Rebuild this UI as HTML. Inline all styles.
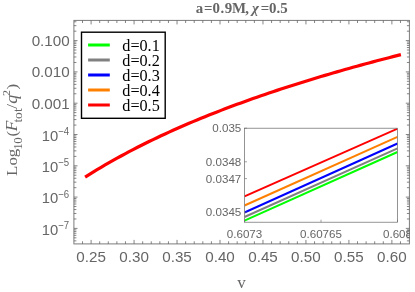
<!DOCTYPE html>
<html><head><meta charset="utf-8"><style>
html,body{margin:0;padding:0;background:#fff;}
svg{display:block;will-change:transform}
text{font-family:"Liberation Sans",sans-serif;fill:#666;}
.s14{font-size:15.2px}
.s11{font-size:11.6px}
.serif{font-family:"Liberation Serif",serif}
</style></head><body>
<svg width="415" height="292" viewBox="0 0 415 292">
<rect width="415" height="292" fill="#fff"/>
<defs><clipPath id="cp"><rect x="73.9" y="20.4" width="335.5" height="223.5"/></clipPath>
<clipPath id="ci"><rect x="244.5" y="128.2" width="153.0" height="94.0"/></clipPath>
<clipPath id="cr"><rect x="0" y="0" width="410" height="292"/></clipPath></defs>
<path d="M85.10,177.19 L89.10,174.66 L93.09,172.17 L97.09,169.74 L101.09,167.34 L105.09,164.99 L109.08,162.68 L113.08,160.41 L117.08,158.17 L121.08,155.98 L125.07,153.82 L129.07,151.69 L133.07,149.60 L137.07,147.54 L141.06,145.51 L145.06,143.52 L149.06,141.55 L153.06,139.61 L157.05,137.70 L161.05,135.82 L165.05,133.96 L169.05,132.13 L173.04,130.32 L177.04,128.54 L181.04,126.78 L185.04,125.05 L189.03,123.34 L193.03,121.65 L197.03,119.98 L201.03,118.33 L205.02,116.70 L209.02,115.09 L213.02,113.50 L217.02,111.93 L221.01,110.38 L225.01,108.85 L229.01,107.33 L233.01,105.83 L237.00,104.35 L241.00,102.89 L245.00,101.44 L249.00,100.00 L252.99,98.58 L256.99,97.18 L260.99,95.79 L264.99,94.42 L268.98,93.06 L272.98,91.71 L276.98,90.38 L280.98,89.06 L284.97,87.76 L288.97,86.46 L292.97,85.18 L296.97,83.91 L300.96,82.66 L304.96,81.41 L308.96,80.18 L312.96,78.96 L316.95,77.75 L320.95,76.55 L324.95,75.36 L328.95,74.19 L332.94,73.02 L336.94,71.86 L340.94,70.72 L344.94,69.58 L348.93,68.45 L352.93,67.33 L356.93,66.23 L360.93,65.13 L364.92,64.04 L368.92,62.96 L372.92,61.88 L376.92,60.82 L380.91,59.77 L384.91,58.72 L388.91,57.68 L392.91,56.65 L396.90,55.63 L400.90,54.62" stroke="#ff0000" stroke-width="3.2" fill="none" clip-path="url(#cp)"/>
<rect x="73.9" y="20.4" width="335.5" height="223.5" fill="none" stroke="#7c7c7c" stroke-width="1"/>
<path d="M82.51,243.9 v-2.6 M82.51,20.4 v2.6 M91.10,243.9 v-4.0 M91.10,20.4 v4.0 M99.69,243.9 v-2.6 M99.69,20.4 v2.6 M108.29,243.9 v-2.6 M108.29,20.4 v2.6 M116.88,243.9 v-2.6 M116.88,20.4 v2.6 M125.48,243.9 v-2.6 M125.48,20.4 v2.6 M134.07,243.9 v-4.0 M134.07,20.4 v4.0 M142.66,243.9 v-2.6 M142.66,20.4 v2.6 M151.26,243.9 v-2.6 M151.26,20.4 v2.6 M159.85,243.9 v-2.6 M159.85,20.4 v2.6 M168.45,243.9 v-2.6 M168.45,20.4 v2.6 M177.04,243.9 v-4.0 M177.04,20.4 v4.0 M185.63,243.9 v-2.6 M185.63,20.4 v2.6 M194.23,243.9 v-2.6 M194.23,20.4 v2.6 M202.82,243.9 v-2.6 M202.82,20.4 v2.6 M211.42,243.9 v-2.6 M211.42,20.4 v2.6 M220.01,243.9 v-4.0 M220.01,20.4 v4.0 M228.60,243.9 v-2.6 M228.60,20.4 v2.6 M237.20,243.9 v-2.6 M237.20,20.4 v2.6 M245.79,243.9 v-2.6 M245.79,20.4 v2.6 M254.39,243.9 v-2.6 M254.39,20.4 v2.6 M262.98,243.9 v-4.0 M262.98,20.4 v4.0 M271.57,243.9 v-2.6 M271.57,20.4 v2.6 M280.17,243.9 v-2.6 M280.17,20.4 v2.6 M288.76,243.9 v-2.6 M288.76,20.4 v2.6 M297.36,243.9 v-2.6 M297.36,20.4 v2.6 M305.95,243.9 v-4.0 M305.95,20.4 v4.0 M314.54,243.9 v-2.6 M314.54,20.4 v2.6 M323.14,243.9 v-2.6 M323.14,20.4 v2.6 M331.73,243.9 v-2.6 M331.73,20.4 v2.6 M340.33,243.9 v-2.6 M340.33,20.4 v2.6 M348.92,243.9 v-4.0 M348.92,20.4 v4.0 M357.51,243.9 v-2.6 M357.51,20.4 v2.6 M366.11,243.9 v-2.6 M366.11,20.4 v2.6 M374.70,243.9 v-2.6 M374.70,20.4 v2.6 M383.30,243.9 v-2.6 M383.30,20.4 v2.6 M391.89,243.9 v-4.0 M391.89,20.4 v4.0 M400.48,243.9 v-2.6 M400.48,20.4 v2.6 M73.9,240.86 h2.5 M409.4,240.86 h-2.5 M73.9,237.82 h2.5 M409.4,237.82 h-2.5 M73.9,235.34 h2.5 M409.4,235.34 h-2.5 M73.9,233.25 h2.5 M409.4,233.25 h-2.5 M73.9,231.43 h2.5 M409.4,231.43 h-2.5 M73.9,229.83 h2.5 M409.4,229.83 h-2.5 M73.9,228.40 h3.6 M409.4,228.40 h-3.6 M73.9,218.98 h2.5 M409.4,218.98 h-2.5 M73.9,213.47 h2.5 M409.4,213.47 h-2.5 M73.9,209.56 h2.5 M409.4,209.56 h-2.5 M73.9,206.52 h2.5 M409.4,206.52 h-2.5 M73.9,204.04 h2.5 M409.4,204.04 h-2.5 M73.9,201.95 h2.5 M409.4,201.95 h-2.5 M73.9,200.13 h2.5 M409.4,200.13 h-2.5 M73.9,198.53 h2.5 M409.4,198.53 h-2.5 M73.9,197.10 h3.6 M409.4,197.10 h-3.6 M73.9,187.68 h2.5 M409.4,187.68 h-2.5 M73.9,182.17 h2.5 M409.4,182.17 h-2.5 M73.9,178.26 h2.5 M409.4,178.26 h-2.5 M73.9,175.22 h2.5 M409.4,175.22 h-2.5 M73.9,172.74 h2.5 M409.4,172.74 h-2.5 M73.9,170.65 h2.5 M409.4,170.65 h-2.5 M73.9,168.83 h2.5 M409.4,168.83 h-2.5 M73.9,167.23 h2.5 M409.4,167.23 h-2.5 M73.9,165.80 h3.6 M409.4,165.80 h-3.6 M73.9,156.38 h2.5 M409.4,156.38 h-2.5 M73.9,150.87 h2.5 M409.4,150.87 h-2.5 M73.9,146.96 h2.5 M409.4,146.96 h-2.5 M73.9,143.92 h2.5 M409.4,143.92 h-2.5 M73.9,141.44 h2.5 M409.4,141.44 h-2.5 M73.9,139.35 h2.5 M409.4,139.35 h-2.5 M73.9,137.53 h2.5 M409.4,137.53 h-2.5 M73.9,135.93 h2.5 M409.4,135.93 h-2.5 M73.9,134.50 h3.6 M409.4,134.50 h-3.6 M73.9,125.08 h2.5 M409.4,125.08 h-2.5 M73.9,119.57 h2.5 M409.4,119.57 h-2.5 M73.9,115.66 h2.5 M409.4,115.66 h-2.5 M73.9,112.62 h2.5 M409.4,112.62 h-2.5 M73.9,110.14 h2.5 M409.4,110.14 h-2.5 M73.9,108.05 h2.5 M409.4,108.05 h-2.5 M73.9,106.23 h2.5 M409.4,106.23 h-2.5 M73.9,104.63 h2.5 M409.4,104.63 h-2.5 M73.9,103.20 h3.6 M409.4,103.20 h-3.6 M73.9,93.78 h2.5 M409.4,93.78 h-2.5 M73.9,88.27 h2.5 M409.4,88.27 h-2.5 M73.9,84.36 h2.5 M409.4,84.36 h-2.5 M73.9,81.32 h2.5 M409.4,81.32 h-2.5 M73.9,78.84 h2.5 M409.4,78.84 h-2.5 M73.9,76.75 h2.5 M409.4,76.75 h-2.5 M73.9,74.93 h2.5 M409.4,74.93 h-2.5 M73.9,73.33 h2.5 M409.4,73.33 h-2.5 M73.9,71.90 h3.6 M409.4,71.90 h-3.6 M73.9,62.48 h2.5 M409.4,62.48 h-2.5 M73.9,56.97 h2.5 M409.4,56.97 h-2.5 M73.9,53.06 h2.5 M409.4,53.06 h-2.5 M73.9,50.02 h2.5 M409.4,50.02 h-2.5 M73.9,47.54 h2.5 M409.4,47.54 h-2.5 M73.9,45.45 h2.5 M409.4,45.45 h-2.5 M73.9,43.63 h2.5 M409.4,43.63 h-2.5 M73.9,42.03 h2.5 M409.4,42.03 h-2.5 M73.9,40.60 h3.6 M409.4,40.60 h-3.6 M73.9,31.18 h2.5 M409.4,31.18 h-2.5 M73.9,25.67 h2.5 M409.4,25.67 h-2.5 M73.9,21.76 h2.5 M409.4,21.76 h-2.5" stroke="#666" stroke-width="0.8" fill="none"/>
<text x="69.7" y="45.9" text-anchor="end" class="s14">0.100</text>
<text x="69.7" y="77.2" text-anchor="end" class="s14">0.010</text>
<text x="69.7" y="108.5" text-anchor="end" class="s14">0.001</text>
<text x="58.3" y="140.8" text-anchor="end" class="s14" style="font-size:14.8px">10</text>
<text transform="translate(58.1,134.9) scale(0.9,1)" class="s14" style="font-size:10.7px">&#8722;4</text>
<text x="58.3" y="172.1" text-anchor="end" class="s14" style="font-size:14.8px">10</text>
<text transform="translate(58.1,166.2) scale(0.9,1)" class="s14" style="font-size:10.7px">&#8722;5</text>
<text x="58.3" y="203.4" text-anchor="end" class="s14" style="font-size:14.8px">10</text>
<text transform="translate(58.1,197.5) scale(0.9,1)" class="s14" style="font-size:10.7px">&#8722;6</text>
<text x="58.3" y="234.7" text-anchor="end" class="s14" style="font-size:14.8px">10</text>
<text transform="translate(58.1,228.8) scale(0.9,1)" class="s14" style="font-size:10.7px">&#8722;7</text>
<text x="91.1" y="261.8" text-anchor="middle" class="s14">0.25</text>
<text x="134.1" y="261.8" text-anchor="middle" class="s14">0.30</text>
<text x="177.0" y="261.8" text-anchor="middle" class="s14">0.35</text>
<text x="220.0" y="261.8" text-anchor="middle" class="s14">0.40</text>
<text x="263.0" y="261.8" text-anchor="middle" class="s14">0.45</text>
<text x="305.9" y="261.8" text-anchor="middle" class="s14">0.50</text>
<text x="348.9" y="261.8" text-anchor="middle" class="s14">0.55</text>
<text x="391.9" y="261.8" text-anchor="middle" class="s14">0.60</text>

<text y="12.6" class="serif" font-size="14.9" font-weight="bold" x="195.7 203.9 212.5 220.6 224.8 232.0 245.3">a=0.9M,</text>
<text y="12.6" class="serif" font-size="14.9" font-style="italic" font-weight="bold" x="252.0">&#967;</text>
<text y="12.6" class="serif" font-size="14.9" font-weight="bold" x="260.8 269.0 276.6 280.3">=0.5</text>
<text x="241.6" y="287.9" text-anchor="middle" class="serif" font-size="17">v</text>
<g transform="translate(16.9,175.9) rotate(-90) scale(1,0.9)" class="serif">
<text class="serif" font-size="17" x="0 10.3 18.7">Log</text>
<text class="serif" font-size="13" y="5.4" x="26.2 32.2">10</text>
<text class="serif" font-size="17" x="39.4">(</text>
<text class="serif" font-size="17.5" font-style="italic" x="44.6" transform="scale(1,1.08)">F</text>
<text class="serif" font-size="13.5" y="5.2" x="53.3 57.0 63.8">tot</text>
<text class="serif" font-size="17" x="67.2">/</text>
<text class="serif" font-size="18" font-style="italic" x="72.2" transform="scale(1,1.08)">q</text>
<text class="serif" font-size="12" y="-7.4" x="79.8">2</text>
<text class="serif" font-size="17" x="86.4">)</text>
</g>
<!-- inset -->
<rect x="244.5" y="128.2" width="153.0" height="94.0" fill="#fff"/>
<g clip-path="url(#ci)">
<path d="M244.5,220.7 L397.5,152.0" stroke="#00ff00" stroke-width="1.95" fill="none"/>
<path d="M244.5,217.0 L397.5,148.4" stroke="#808080" stroke-width="1.95" fill="none"/>
<path d="M244.5,212.5 L397.5,143.5" stroke="#0000ff" stroke-width="1.95" fill="none"/>
<path d="M244.5,205.5 L397.5,136.9" stroke="#ff8000" stroke-width="1.95" fill="none"/>
<path d="M244.5,196.4 L397.5,128.7" stroke="#ff0000" stroke-width="1.95" fill="none"/>
</g>
<rect x="244.5" y="128.2" width="153.0" height="94.0" fill="none" stroke="#666" stroke-width="0.7"/>
<path d="M244.5,128.20 h2.5 M244.5,161.80 h2.5 M244.5,178.60 h2.5 M244.5,212.20 h2.5 M244.5,222.2 v-2.5 M321.0,222.2 v-2.5 M397.5,222.2 v-2.5" stroke="#666" stroke-width="0.6" fill="none"/>
<g clip-path="url(#cr)">
<text x="241.3" y="132.2" text-anchor="end" class="s11">0.035</text>
<text x="241.3" y="165.8" text-anchor="end" class="s11">0.0348</text>
<text x="241.3" y="182.6" text-anchor="end" class="s11">0.0347</text>
<text x="241.3" y="216.2" text-anchor="end" class="s11">0.0345</text>
<text x="244.5" y="237.6" text-anchor="middle" class="s11">0.6073</text>
<text x="321.0" y="237.6" text-anchor="middle" class="s11">0.60765</text>
<text x="397.5" y="237.6" text-anchor="middle" class="s11">0.608</text>
</g>
<!-- legend -->
<rect x="81.5" y="32.2" width="83.7" height="86.1" fill="#fff" stroke="#000" stroke-width="1.4"/>
<path d="M88.1,45 H109.8" stroke="#00ff00" stroke-width="3"/>
<text x="122.3" y="51.2" class="serif" font-size="16.2" style="fill:#000">d=0.1</text>
<path d="M88.1,60 H109.8" stroke="#808080" stroke-width="3"/>
<text x="122.3" y="66.2" class="serif" font-size="16.2" style="fill:#000">d=0.2</text>
<path d="M88.1,75 H109.8" stroke="#0000ff" stroke-width="3"/>
<text x="122.3" y="81.2" class="serif" font-size="16.2" style="fill:#000">d=0.3</text>
<path d="M88.1,90 H109.8" stroke="#ff8000" stroke-width="3"/>
<text x="122.3" y="96.2" class="serif" font-size="16.2" style="fill:#000">d=0.4</text>
<path d="M88.1,105 H109.8" stroke="#ff0000" stroke-width="3"/>
<text x="122.3" y="111.2" class="serif" font-size="16.2" style="fill:#000">d=0.5</text>

</svg>
</body></html>
